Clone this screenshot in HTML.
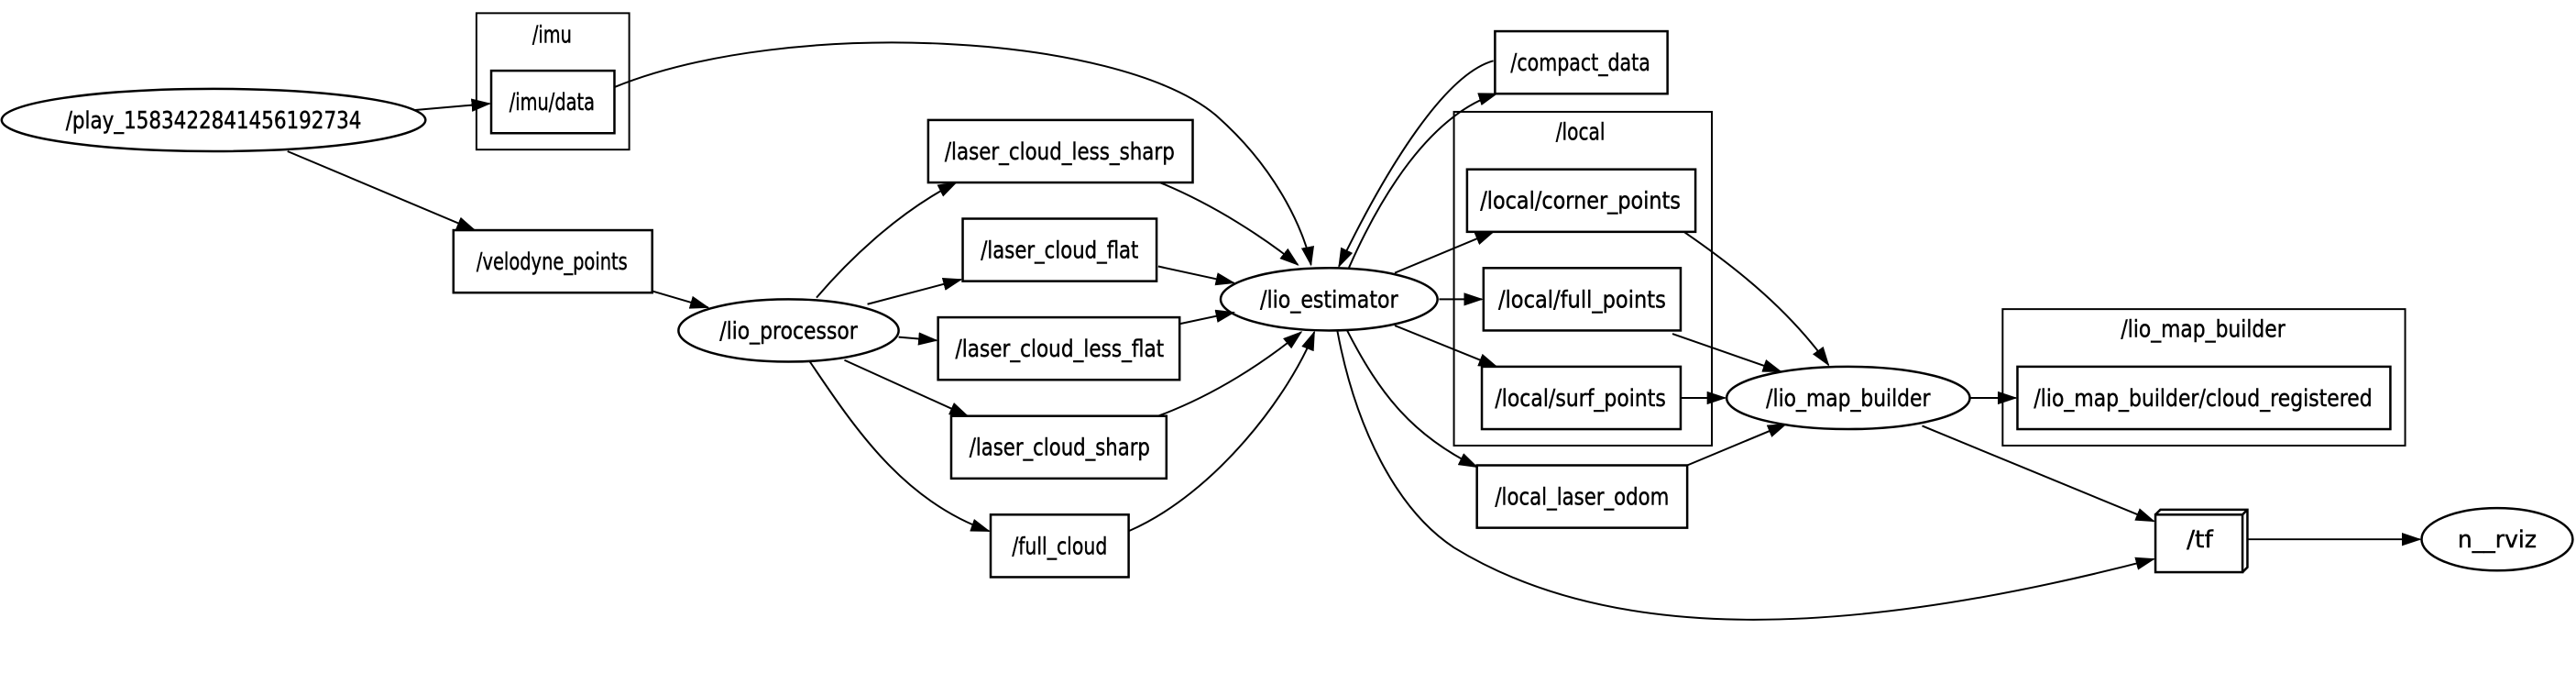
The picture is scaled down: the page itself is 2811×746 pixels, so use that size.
<!DOCTYPE html>
<html><head><meta charset="utf-8"><style>html,body{margin:0;padding:0;background:#fff}svg{display:block}</style></head>
<body>
<svg width="2811" height="746" viewBox="0 0 1568 416" preserveAspectRatio="none" xmlns="http://www.w3.org/2000/svg">
<defs><marker id="a" markerWidth="12" markerHeight="8" refX="11" refY="4" orient="auto" markerUnits="userSpaceOnUse"><path d="M0,0 L12,4 L0,8 z" fill="#000"/></marker></defs>
<rect width="1568" height="416" fill="#fff"/>
<g fill="none" stroke="#000" stroke-width="1.1">
<rect x="290" y="8" width="93" height="83"/>
<rect x="885" y="68" width="157" height="203"/>
<rect x="1219" y="188" width="245" height="83"/>
<g stroke-width="1.4">
<ellipse cx="130" cy="73" rx="129" ry="19"/>
<rect x="299" y="43" width="75" height="38"/>
<rect x="276" y="140" width="121" height="38"/>
<ellipse cx="480" cy="201" rx="67" ry="19"/>
<rect x="565" y="73" width="161" height="38"/>
<rect x="586" y="133" width="118" height="38"/>
<rect x="571" y="193" width="147" height="38"/>
<rect x="579" y="253" width="131" height="38"/>
<rect x="603" y="313" width="84" height="38"/>
<ellipse cx="809" cy="182" rx="66" ry="19"/>
<rect x="910" y="19" width="105" height="38"/>
<rect x="893" y="103" width="139" height="38"/>
<rect x="903" y="163" width="120" height="38"/>
<rect x="902" y="223" width="121" height="38"/>
<rect x="899" y="283" width="128" height="38"/>
<ellipse cx="1125" cy="242" rx="74" ry="19"/>
<rect x="1228" y="223" width="227" height="38"/>
<rect x="1312" y="313" width="53" height="35"/>
<path d="M1312,313 L1315,310 L1368,310 L1368,345 L1365,348 M1365,313 L1368,310"/>
<ellipse cx="1520" cy="328" rx="46" ry="19"/>
</g>
<g marker-end="url(#a)">
<path d="M252,67 L298,63"/>
<path d="M374,53 C480,10 680,20 740,70 C780,105 795,145 798,161"/>
<path d="M175,92 L289,140"/>
<path d="M397,177 L431,187"/>
<path d="M497,181 C515,160 545,130 582,111"/>
<path d="M528,185 L585,170"/>
<path d="M547,205 L570,207"/>
<path d="M514,219 L589,253"/>
<path d="M493,220 C520,260 550,305 602,323"/>
<path d="M706,111 C740,125 770,145 790,161"/>
<path d="M705,162 L751,172"/>
<path d="M718,197 L751,190"/>
<path d="M705,253 C740,240 770,220 792,202"/>
<path d="M687,323 C740,300 785,240 800,202"/>
<path d="M821,163 C840,120 870,70 911,57"/>
<path d="M909,37 C880,45 845,100 815,162"/>
<path d="M849,166 L909,141"/>
<path d="M876,182 L902,182"/>
<path d="M849,198 L911,223"/>
<path d="M820,201 C840,240 860,265 899,284"/>
<path d="M814,201 C825,260 850,310 885,333 C970,385 1100,395 1311,340"/>
<path d="M1025,141 C1060,165 1090,190 1113,222"/>
<path d="M1018,203 L1084,226"/>
<path d="M1023,242 L1050,242"/>
<path d="M1027,283 L1087,258"/>
<path d="M1199,242 L1227,242"/>
<path d="M1170,259 L1311,317"/>
<path d="M1368,328 L1473,328"/>
</g>
</g>
<g font-family="'DejaVu Sans','Liberation Sans',sans-serif" font-size="14.5" text-anchor="middle" fill="#000" stroke="#000" stroke-width="0.25">
<text x="336" y="26" textLength="24" lengthAdjust="spacingAndGlyphs">/imu</text>
<text x="130" y="78" textLength="180" lengthAdjust="spacingAndGlyphs">/play_1583422841456192734</text>
<text x="336" y="67" textLength="52" lengthAdjust="spacingAndGlyphs">/imu/data</text>
<text x="336" y="164" textLength="92" lengthAdjust="spacingAndGlyphs">/velodyne_points</text>
<text x="480" y="206" textLength="84" lengthAdjust="spacingAndGlyphs">/lio_processor</text>
<text x="645" y="97" textLength="140" lengthAdjust="spacingAndGlyphs">/laser_cloud_less_sharp</text>
<text x="645" y="157" textLength="96" lengthAdjust="spacingAndGlyphs">/laser_cloud_flat</text>
<text x="645" y="217" textLength="127" lengthAdjust="spacingAndGlyphs">/laser_cloud_less_flat</text>
<text x="645" y="277" textLength="110" lengthAdjust="spacingAndGlyphs">/laser_cloud_sharp</text>
<text x="645" y="337" textLength="58" lengthAdjust="spacingAndGlyphs">/full_cloud</text>
<text x="809" y="187" textLength="84" lengthAdjust="spacingAndGlyphs">/lio_estimator</text>
<text x="962" y="43" textLength="85" lengthAdjust="spacingAndGlyphs">/compact_data</text>
<text x="962" y="85" textLength="30" lengthAdjust="spacingAndGlyphs">/local</text>
<text x="962" y="127" textLength="122" lengthAdjust="spacingAndGlyphs">/local/corner_points</text>
<text x="963" y="187" textLength="102" lengthAdjust="spacingAndGlyphs">/local/full_points</text>
<text x="962" y="247" textLength="104" lengthAdjust="spacingAndGlyphs">/local/surf_points</text>
<text x="963" y="307" textLength="106" lengthAdjust="spacingAndGlyphs">/local_laser_odom</text>
<text x="1125" y="247" textLength="100" lengthAdjust="spacingAndGlyphs">/lio_map_builder</text>
<text x="1341" y="205" textLength="100" lengthAdjust="spacingAndGlyphs">/lio_map_builder</text>
<text x="1341" y="247" textLength="206" lengthAdjust="spacingAndGlyphs">/lio_map_builder/cloud_registered</text>
<text x="1339" y="333" textLength="16" lengthAdjust="spacingAndGlyphs">/tf</text>
<text x="1520" y="333" textLength="48" lengthAdjust="spacingAndGlyphs">n__rviz</text>
</g>
</svg>
</body></html>
